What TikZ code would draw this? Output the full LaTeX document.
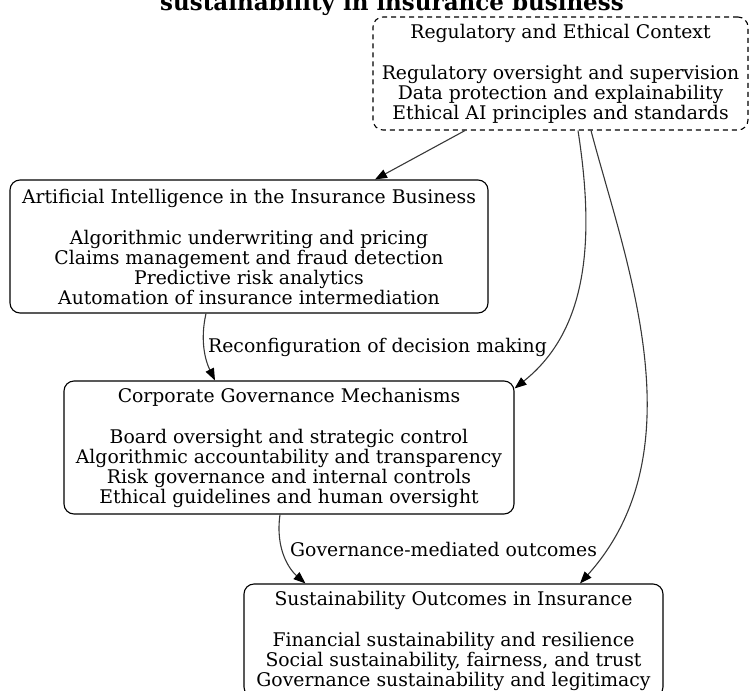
\documentclass[tikz,border=0pt]{standalone}
\usepackage{fontspec}
\setmainfont{DejaVu Serif}
\usetikzlibrary{arrows.meta,positioning,calc}
\definecolor{edgecol}{RGB}{56,56,56}

\begin{document}
\begin{tikzpicture}[
    x=1pt, y=-1pt,
    >={Triangle[length=12pt, width=9pt, color=black]},
    box/.style={rectangle, rounded corners=10pt, align=center, draw, line width=1.1pt, inner sep=0pt, font=\fontsize{18.8}{20}\selectfont},
    ctxbox/.style={box, dash pattern=on 5pt off 4pt},
    arrow/.style={->, line width=1.1pt, draw=edgecol},
    edgelabel/.style={font=\fontsize{18.8}{20}\selectfont, inner sep=0pt},
]
\useasboundingbox (0,0) rectangle (750,691);

\node[font=\fontsize{23}{26}\selectfont\bfseries, anchor=base] (title) at (392,10) {sustainability in insurance business};

\node[ctxbox, minimum width=375pt, minimum height=113pt] (reg) at (560.5,73.5)
  {Regulatory and Ethical Context\\[21pt]Regulatory oversight and supervision\\Data protection and explainability\\Ethical AI principles and standards};
\node[box, minimum width=478pt, minimum height=133pt] (ai) at (249,246.5)
  {Artificial Intelligence in the Insurance Business\\[21pt]Algorithmic underwriting and pricing\\Claims management and fraud detection\\Predictive risk analytics\\Automation of insurance intermediation};
\node[box, minimum width=450pt, minimum height=133pt] (corp) at (289,447.5)
  {Corporate Governance Mechanisms\\[21pt]Board oversight and strategic control\\Algorithmic accountability and transparency\\Risk governance and internal controls\\Ethical guidelines and human oversight};
\node[box, minimum width=419pt, minimum height=113pt] (sust) at (453.5,640.5)
  {Sustainability Outcomes in Insurance\\[21pt]Financial sustainability and resilience\\Social sustainability, fairness, and trust\\Governance sustainability and legitimacy};

% edge labels
\node[edgelabel, anchor=west] (lab1) at (208,347) {Reconfiguration of decision making};
\node[edgelabel, anchor=west] (lab2) at (290,549) {Governance-mediated outcomes};

\draw[arrow] ([xshift=-95.5pt]reg.south) -- ([xshift=126pt]ai.north);
\draw[arrow] ([xshift=-43pt]ai.south) .. controls (200,340) and (205,360) .. ([xshift=-74pt]corp.north);
\draw[arrow] ([xshift=17.5pt]reg.south) .. controls (595,240) and (588,330) .. ([yshift=-8pt]corp.north east);
\draw[arrow] ([xshift=-9pt]corp.south) .. controls (275,550) and (290,570) .. ([xshift=-148pt]sust.north);
\draw[arrow] ([xshift=30.5pt]reg.south) .. controls (625,260) and (700,450) .. ([xshift=126.5pt]sust.north);
\end{tikzpicture}
\end{document}
